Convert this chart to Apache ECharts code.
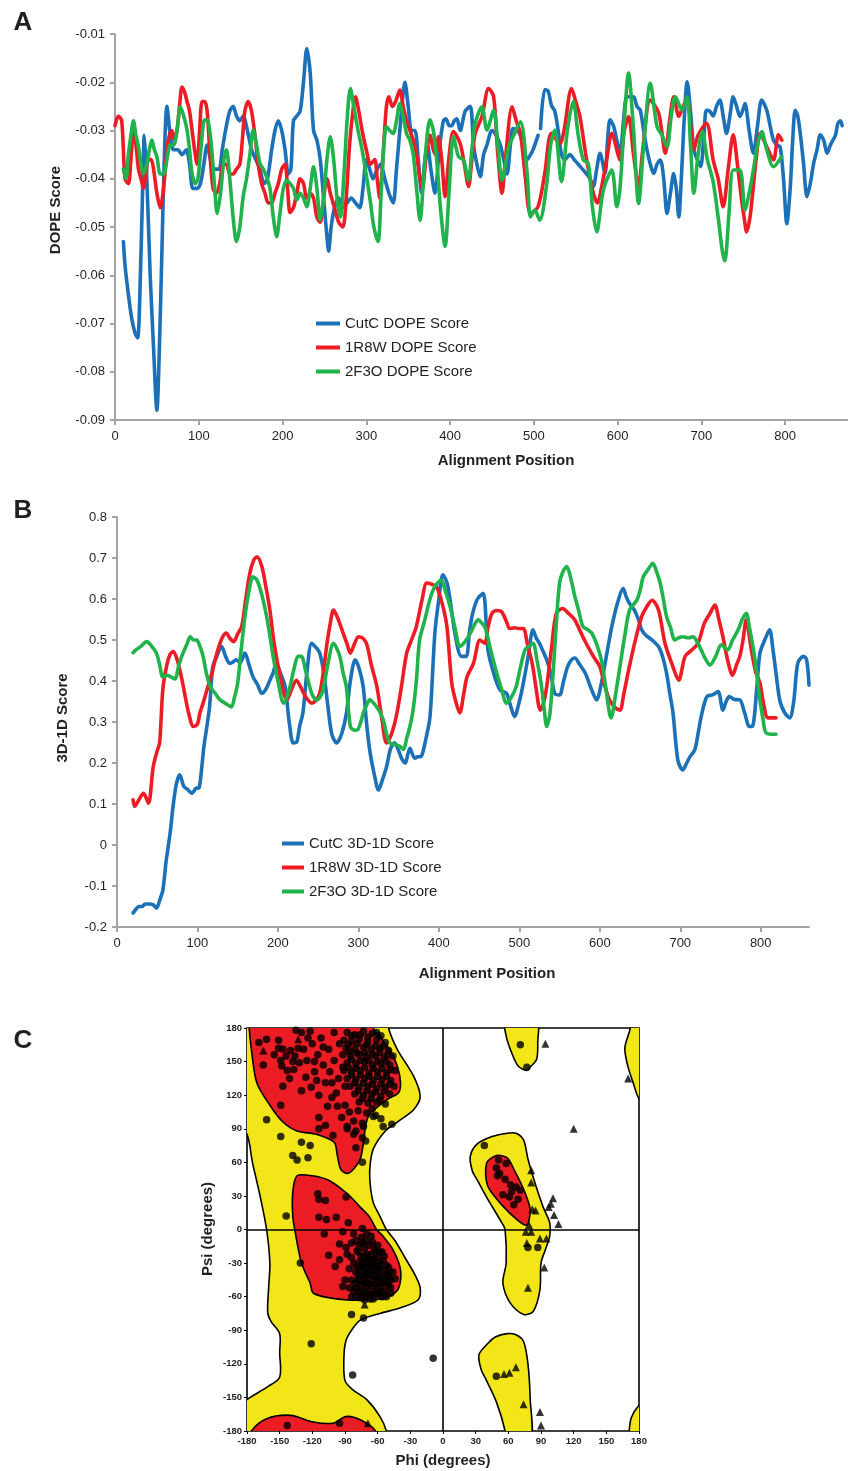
<!DOCTYPE html>
<html><head><meta charset="utf-8">
<script src="https://cdn.jsdelivr.net/npm/echarts@6/dist/echarts.min.js"></script>
<style>html,body{margin:0;padding:0;background:#fff}#c{width:848px;height:1471px}</style>
</head><body><div id="c"></div>
<script>
// ---------- Panel A: DOPE score ----------
const dopeXAxis = {min: 0, max: 875, interval: 100};
const dopeXTicks = [0, 100, 200, 300, 400, 500, 600, 700, 800];
const dopeYAxis = {min: -0.09, max: -0.01, interval: 0.01};
const cutcDope = [[10,-0.053],[12,-0.058],[16,-0.064],[20,-0.069],[24,-0.072],[27,-0.073],[30,-0.062],[33,-0.042],[35,-0.031],[38,-0.040],[42,-0.060],[46,-0.075],[50,-0.088],[53,-0.075],[56,-0.055],[59,-0.035],[62,-0.025],[66,-0.031],[70,-0.034],[75,-0.034],[80,-0.035],[85,-0.034],[89,-0.037],[93,-0.042],[98,-0.042],[102,-0.041],[106,-0.037],[110,-0.033],[114,-0.036],[118,-0.038],[124,-0.038],[128,-0.034],[133,-0.029],[137,-0.026],[141,-0.025],[145,-0.027],[149,-0.028],[153,-0.027],[158,-0.030],[163,-0.034],[168,-0.036],[173,-0.038],[178,-0.041],[182,-0.040],[187,-0.034],[191,-0.030],[195,-0.028],[199,-0.030],[203,-0.034],[207,-0.039],[210,-0.038],[213,-0.028],[217,-0.027],[221,-0.026],[225,-0.020],[229,-0.013],[233,-0.018],[237,-0.030],[241,-0.032],[245,-0.036],[249,-0.044],[253,-0.052],[255,-0.055],[258,-0.050],[262,-0.046],[267,-0.044],[272,-0.046],[277,-0.045],[282,-0.044],[287,-0.045],[292,-0.046],[296,-0.042],[300,-0.036],[304,-0.038],[308,-0.040],[313,-0.038],[317,-0.037],[322,-0.040],[327,-0.043],[332,-0.045],[336,-0.038],[340,-0.030],[343,-0.024],[346,-0.020],[350,-0.025],[354,-0.030],[358,-0.030],[362,-0.036],[366,-0.043],[370,-0.036],[373,-0.033],[377,-0.038],[382,-0.043],[387,-0.034],[392,-0.028],[395,-0.0276],[399,-0.029],[402,-0.029],[405,-0.028],[408,-0.0276],[412,-0.030],[418,-0.026],[424,-0.025],[428,-0.033],[432,-0.037],[436,-0.0396],[440,-0.035],[444,-0.033],[450,-0.030],[455,-0.031],[460,-0.033],[464,-0.036],[468,-0.039],[472,-0.033],[475,-0.0296],[480,-0.030],[484,-0.031],[488,-0.034],[492,-0.036],[496,-0.035],[499,-0.034],[505,-0.031],[506,null],[508,-0.0296],[513,-0.0215],[517,-0.0218],[521,-0.0248],[525,-0.026],[529,-0.030],[533,-0.035],[537,-0.036],[543,-0.035],[548,-0.036],[553,-0.037],[558,-0.038],[563,-0.039],[567,-0.040],[571,-0.0416],[575,-0.038],[579,-0.0347],[585,-0.0389],[588,-0.032],[591,-0.0278],[595,-0.029],[599,-0.032],[603,-0.0347],[607,-0.028],[611,-0.023],[615,-0.023],[619,-0.023],[623,-0.025],[627,-0.0258],[631,-0.030],[635,-0.034],[639,-0.037],[643,-0.0389],[647,-0.037],[651,-0.0361],[655,-0.040],[659,-0.0472],[663,-0.043],[667,-0.0389],[670,-0.042],[673,-0.0479],[676,-0.040],[680,-0.026],[683,-0.0199],[687,-0.026],[691,-0.034],[695,-0.036],[699,-0.0375],[703,-0.031],[706,-0.0258],[710,-0.026],[714,-0.027],[718,-0.025],[722,-0.0237],[726,-0.027],[730,-0.0306],[734,-0.027],[738,-0.023],[742,-0.025],[746,-0.0271],[749,-0.026],[752,-0.0244],[757,-0.030],[762,-0.0347],[767,-0.029],[772,-0.0237],[778,-0.0258],[782,-0.029],[786,-0.032],[790,-0.033],[794,-0.0334],[798,-0.040],[802,-0.0493],[806,-0.042],[809,-0.032],[812,-0.0258],[815,-0.027],[818,-0.0306],[822,-0.037],[826,-0.0437],[830,-0.041],[834,-0.0368],[838,-0.034],[842,-0.0309],[846,-0.032],[850,-0.0347],[854,-0.033],[857,-0.032],[860,-0.031],[863,-0.0285],[866,-0.028],[868,-0.029]];
const r1r8wDope = [[0,-0.029],[4,-0.027],[8,-0.028],[12,-0.040],[16,-0.041],[19,-0.036],[22,-0.030],[25,-0.033],[28,-0.038],[31,-0.040],[34,-0.042],[37,-0.039],[40,-0.036],[43,-0.036],[46,-0.038],[50,-0.043],[54,-0.046],[58,-0.042],[62,-0.034],[65,-0.031],[68,-0.030],[71,-0.032],[74,-0.030],[77,-0.025],[80,-0.021],[83,-0.022],[86,-0.024],[89,-0.026],[92,-0.030],[95,-0.034],[98,-0.037],[101,-0.030],[104,-0.024],[107,-0.024],[110,-0.026],[113,-0.034],[117,-0.042],[121,-0.043],[125,-0.041],[129,-0.037],[133,-0.037],[137,-0.039],[141,-0.039],[145,-0.038],[149,-0.037],[152,-0.032],[155,-0.026],[159,-0.024],[163,-0.026],[167,-0.031],[171,-0.037],[175,-0.041],[179,-0.043],[183,-0.045],[187,-0.045],[191,-0.043],[195,-0.041],[199,-0.038],[203,-0.037],[206,-0.042],[209,-0.047],[213,-0.046],[217,-0.043],[221,-0.040],[225,-0.041],[229,-0.044],[233,-0.043],[237,-0.044],[241,-0.048],[245,-0.049],[249,-0.044],[253,-0.040],[257,-0.043],[262,-0.046],[267,-0.049],[272,-0.050],[276,-0.044],[280,-0.033],[284,-0.026],[287,-0.023],[291,-0.026],[295,-0.030],[300,-0.034],[305,-0.037],[310,-0.036],[313,-0.040],[316,-0.044],[320,-0.035],[324,-0.025],[327,-0.023],[331,-0.025],[335,-0.024],[340,-0.0216],[344,-0.025],[348,-0.028],[352,-0.030],[356,-0.032],[360,-0.035],[364,-0.040],[367,-0.042],[371,-0.036],[376,-0.031],[380,-0.034],[383,-0.035],[386,-0.0313],[390,-0.036],[394,-0.0437],[399,-0.035],[404,-0.0302],[412,-0.0327],[417,-0.037],[422,-0.0416],[426,-0.036],[430,-0.0306],[438,-0.0271],[446,-0.0213],[452,-0.023],[457,-0.035],[462,-0.043],[466,-0.036],[474,-0.0251],[479,-0.028],[484,-0.0306],[490,-0.040],[496,-0.0472],[505,-0.0458],[513,-0.0389],[521,-0.0306],[531,-0.0327],[536,-0.030],[545,-0.0213],[550,-0.024],[555,-0.0271],[563,-0.0361],[571,-0.043],[576,-0.045],[581,-0.0416],[587,-0.036],[593,-0.0306],[603,-0.0361],[608,-0.030],[613,-0.0271],[619,-0.035],[625,-0.0416],[630,-0.034],[639,-0.0237],[649,-0.0264],[657,-0.0347],[662,-0.028],[667,-0.023],[673,-0.0271],[678,-0.025],[683,-0.0237],[691,-0.034],[696,-0.031],[706,-0.0285],[714,-0.0361],[720,-0.040],[726,-0.0458],[732,-0.038],[738,-0.0309],[743,-0.037],[748,-0.0444],[751,-0.048],[754,-0.051],[758,-0.048],[762,-0.0416],[766,-0.035],[770,-0.0306],[778,-0.0334],[786,-0.0361],[792,-0.0309],[796,-0.032]];
const f2f3oDope = [[10,-0.038],[13,-0.040],[16,-0.035],[19,-0.031],[22,-0.028],[25,-0.031],[28,-0.0334],[31,-0.037],[34,-0.039],[38,-0.037],[41,-0.034],[44,-0.032],[47,-0.034],[50,-0.0354],[54,-0.039],[58,-0.039],[62,-0.036],[66,-0.033],[70,-0.033],[74,-0.030],[78,-0.0251],[82,-0.027],[86,-0.0299],[89,-0.034],[92,-0.039],[96,-0.041],[99,-0.040],[103,-0.033],[107,-0.0278],[111,-0.028],[115,-0.033],[119,-0.042],[122,-0.0472],[126,-0.043],[130,-0.036],[133,-0.034],[137,-0.040],[141,-0.048],[145,-0.053],[149,-0.050],[153,-0.0437],[157,-0.040],[161,-0.035],[165,-0.0299],[169,-0.033],[173,-0.0368],[177,-0.038],[181,-0.0396],[185,-0.042],[189,-0.048],[193,-0.052],[197,-0.047],[201,-0.042],[205,-0.0403],[209,-0.041],[213,-0.042],[217,-0.0444],[221,-0.043],[225,-0.044],[229,-0.0458],[233,-0.042],[237,-0.0375],[241,-0.042],[245,-0.0486],[249,-0.044],[253,-0.036],[257,-0.0313],[261,-0.036],[265,-0.044],[269,-0.0479],[273,-0.040],[277,-0.028],[281,-0.0213],[285,-0.025],[290,-0.0299],[295,-0.034],[301,-0.0403],[305,-0.045],[309,-0.050],[314,-0.053],[318,-0.042],[324,-0.0292],[328,-0.030],[332,-0.0306],[336,-0.028],[340,-0.0244],[344,-0.027],[348,-0.0306],[352,-0.032],[356,-0.035],[360,-0.042],[364,-0.0486],[370,-0.036],[376,-0.0278],[380,-0.030],[384,-0.0361],[389,-0.047],[394,-0.054],[399,-0.042],[404,-0.0313],[410,-0.0354],[416,-0.0361],[422,-0.0403],[426,-0.034],[430,-0.0285],[438,-0.0251],[444,-0.0299],[452,-0.0258],[457,-0.033],[462,-0.0403],[470,-0.0334],[476,-0.031],[484,-0.0282],[492,-0.0389],[496,-0.0479],[501,-0.0465],[507,-0.0486],[515,-0.0416],[520,-0.033],[525,-0.0299],[533,-0.0406],[540,-0.030],[547,-0.024],[553,-0.031],[559,-0.0361],[565,-0.0368],[570,-0.046],[575,-0.051],[583,-0.0423],[593,-0.0382],[599,-0.0458],[603,-0.0416],[608,-0.028],[613,-0.0181],[619,-0.030],[625,-0.0451],[631,-0.0334],[639,-0.0202],[647,-0.0292],[653,-0.031],[659,-0.0334],[664,-0.027],[669,-0.023],[677,-0.0258],[683,-0.023],[687,-0.033],[691,-0.043],[696,-0.035],[701,-0.0302],[707,-0.036],[714,-0.0406],[720,-0.048],[725,-0.055],[728,-0.057],[733,-0.047],[738,-0.0382],[746,-0.0382],[752,-0.0465],[757,-0.043],[762,-0.0382],[767,-0.033],[772,-0.0302],[778,-0.034],[786,-0.0375],[796,-0.0354]];

// ---------- Panel B: 3D-1D score ----------
const prof3dXAxis = {min: 0, max: 860, interval: 100};
const prof3dXTicks = [0, 100, 200, 300, 400, 500, 600, 700, 800];
const prof3dYAxis = {min: -0.2, max: 0.8, interval: 0.1};
const cutc3d = [[20,-0.166],[23,-0.158],[27,-0.150],[31,-0.150],[35,-0.144],[40,-0.144],[45,-0.146],[49,-0.154],[53,-0.135],[57,-0.110],[61,-0.040],[66,0.029],[70,0.100],[74,0.151],[78,0.171],[83,0.143],[88,0.135],[93,0.126],[98,0.138],[102,0.140],[105,0.183],[108,0.240],[111,0.280],[115,0.337],[119,0.435],[124,0.460],[130,0.484],[135,0.460],[140,0.443],[144,0.446],[148,0.452],[153,0.445],[159,0.468],[164,0.440],[169,0.410],[175,0.390],[180,0.370],[185,0.380],[190,0.402],[194,0.420],[198,0.443],[203,0.420],[209,0.386],[214,0.300],[219,0.249],[223,0.250],[227,0.290],[231,0.322],[236,0.420],[242,0.492],[248,0.480],[252,0.468],[257,0.420],[262,0.340],[267,0.270],[273,0.249],[279,0.270],[285,0.320],[290,0.400],[296,0.452],[301,0.430],[306,0.386],[310,0.300],[314,0.232],[320,0.170],[325,0.134],[330,0.160],[335,0.191],[340,0.235],[345,0.249],[350,0.230],[354,0.210],[358,0.200],[364,0.236],[370,0.212],[374,0.215],[378,0.216],[384,0.260],[389,0.313],[395,0.516],[400,0.600],[405,0.659],[410,0.640],[414,0.597],[420,0.516],[428,0.460],[434,0.460],[438,0.520],[442,0.565],[448,0.600],[455,0.614],[461,0.476],[468,0.420],[476,0.378],[484,0.370],[489,0.340],[494,0.313],[500,0.350],[505,0.395],[511,0.460],[517,0.525],[521,0.505],[525,0.492],[530,0.470],[534,0.452],[539,0.420],[544,0.370],[550,0.366],[555,0.400],[560,0.435],[565,0.452],[569,0.456],[575,0.440],[582,0.419],[590,0.378],[596,0.354],[602,0.395],[609,0.470],[615,0.533],[622,0.590],[629,0.626],[633,0.605],[637,0.589],[643,0.573],[648,0.550],[652,0.525],[658,0.510],[665,0.500],[673,0.484],[678,0.460],[683,0.419],[687,0.370],[691,0.322],[697,0.207],[703,0.183],[708,0.200],[712,0.215],[718,0.232],[722,0.270],[726,0.313],[733,0.362],[740,0.366],[747,0.374],[753,0.329],[757,0.350],[761,0.362],[767,0.355],[774,0.354],[780,0.322],[786,0.289],[790,0.290],[795,0.380],[799,0.468],[805,0.500],[811,0.525],[815,0.480],[819,0.419],[824,0.350],[830,0.322],[836,0.310],[841,0.350],[846,0.443],[853,0.460],[857,0.452],[860,0.390]];
const r1r8w3d = [[20,0.110],[22,0.094],[27,0.110],[33,0.126],[39,0.102],[45,0.191],[50,0.230],[53,0.249],[57,0.380],[62,0.440],[66,0.465],[70,0.472],[75,0.450],[80,0.410],[85,0.360],[89,0.322],[95,0.289],[100,0.295],[103,0.322],[107,0.346],[112,0.380],[118,0.419],[123,0.460],[128,0.492],[132,0.510],[136,0.517],[140,0.505],[145,0.496],[150,0.515],[155,0.533],[160,0.600],[165,0.662],[170,0.695],[174,0.703],[180,0.679],[185,0.630],[190,0.573],[194,0.510],[198,0.460],[204,0.400],[211,0.354],[217,0.380],[223,0.402],[228,0.386],[235,0.360],[242,0.346],[247,0.352],[252,0.370],[257,0.430],[261,0.492],[265,0.540],[269,0.573],[274,0.555],[281,0.517],[286,0.490],[290,0.468],[295,0.490],[300,0.508],[305,0.505],[310,0.492],[316,0.440],[323,0.386],[329,0.310],[335,0.249],[341,0.270],[347,0.313],[353,0.380],[360,0.468],[366,0.500],[372,0.533],[379,0.597],[385,0.639],[391,0.636],[397,0.630],[404,0.590],[410,0.533],[416,0.395],[421,0.350],[426,0.322],[431,0.370],[435,0.410],[443,0.443],[451,0.500],[457,0.492],[461,0.530],[466,0.565],[472,0.572],[478,0.569],[484,0.545],[488,0.528],[494,0.530],[499,0.528],[505,0.528],[510,0.490],[516,0.443],[521,0.380],[526,0.329],[530,0.345],[534,0.386],[540,0.480],[546,0.565],[554,0.577],[561,0.565],[569,0.549],[576,0.520],[583,0.492],[592,0.460],[600,0.435],[606,0.390],[612,0.354],[619,0.335],[625,0.329],[630,0.370],[635,0.419],[643,0.490],[652,0.557],[658,0.580],[665,0.597],[673,0.573],[681,0.492],[690,0.440],[698,0.402],[706,0.460],[714,0.475],[722,0.492],[730,0.541],[737,0.565],[743,0.585],[748,0.550],[753,0.508],[759,0.450],[765,0.414],[770,0.440],[774,0.460],[778,0.500],[782,0.549],[788,0.480],[794,0.420],[799,0.395],[804,0.340],[809,0.310],[819,0.310]];
const f2f3o3d = [[20,0.469],[23,0.475],[30,0.485],[37,0.496],[43,0.485],[49,0.468],[53,0.440],[57,0.410],[62,0.414],[67,0.410],[72,0.405],[77,0.440],[82,0.468],[87,0.490],[91,0.508],[95,0.500],[99,0.500],[103,0.485],[107,0.460],[111,0.420],[116,0.386],[122,0.370],[128,0.354],[135,0.345],[142,0.337],[146,0.360],[150,0.395],[154,0.470],[159,0.557],[164,0.620],[169,0.654],[174,0.646],[180,0.610],[186,0.557],[190,0.510],[194,0.460],[200,0.400],[207,0.346],[211,0.360],[215,0.386],[220,0.430],[225,0.460],[229,0.460],[235,0.420],[242,0.370],[248,0.354],[252,0.360],[256,0.378],[262,0.440],[269,0.492],[273,0.480],[277,0.460],[281,0.420],[285,0.386],[290,0.289],[295,0.280],[299,0.281],[303,0.300],[306,0.322],[310,0.340],[314,0.354],[319,0.346],[325,0.330],[331,0.305],[335,0.270],[339,0.249],[345,0.245],[351,0.241],[356,0.233],[360,0.260],[364,0.289],[368,0.330],[372,0.400],[376,0.500],[382,0.545],[389,0.600],[395,0.630],[403,0.646],[408,0.620],[414,0.581],[420,0.530],[426,0.484],[430,0.490],[434,0.500],[440,0.520],[445,0.540],[449,0.549],[454,0.540],[458,0.528],[465,0.470],[472,0.419],[478,0.380],[484,0.346],[490,0.360],[496,0.386],[501,0.430],[507,0.476],[512,0.485],[517,0.492],[522,0.450],[527,0.395],[531,0.330],[534,0.289],[538,0.320],[542,0.420],[546,0.540],[550,0.639],[555,0.670],[559,0.679],[564,0.650],[569,0.606],[574,0.570],[579,0.533],[585,0.525],[590,0.517],[596,0.490],[602,0.451],[607,0.390],[612,0.322],[614,0.310],[619,0.360],[625,0.435],[631,0.510],[637,0.573],[646,0.597],[650,0.620],[654,0.654],[660,0.672],[666,0.687],[670,0.670],[675,0.639],[679,0.600],[683,0.557],[688,0.530],[693,0.500],[698,0.505],[703,0.508],[710,0.505],[716,0.508],[721,0.495],[726,0.476],[731,0.455],[737,0.439],[744,0.460],[751,0.488],[759,0.476],[765,0.500],[772,0.525],[777,0.550],[782,0.565],[786,0.530],[791,0.476],[795,0.420],[799,0.354],[803,0.305],[807,0.273],[819,0.270]];

// ---------- Panel C: Ramachandran ----------
const ramaRange = {min: -180, max: 180, interval: 30};
const yellowRegions = [
  [[-190,190],[-50,190],[-50,180],[-42,161],[-27,137],[-21,119],[-27,107],[-42,96],[-53,88],[-64,72],[-67,57],[-67,42],[-64,24],[-58,12],[-52,0],[-44,-10],[-35,-25],[-26,-40],[-21,-52],[-23,-63],[-39,-70],[-58,-75],[-76,-81],[-84,-90],[-89,-99],[-91,-114],[-90,-135],[-83,-143],[-70,-152],[-58,-167],[-52,-180],[-51,-190],[-190,-190],[-190,-160],[-177,-150],[-162,-141],[-150,-132],[-150,-110],[-150,-93],[-158,-82],[-161,-74],[-160,-50],[-159,-30],[-162,0],[-168,30],[-175,60],[-180,85],[-190,95]],
  [[59,86],[45,83],[31,76],[25,65],[27,52],[31,45],[40,29],[54,6],[57,0],[58,-30],[55,-48],[62,-66],[74,-76],[83,-73],[89,-54],[90,-30],[94,-18],[98,-6],[98,6],[92,20],[85,40],[78,63],[74,80],[67,86]],
  [[57,190],[86,190],[87,167],[86,152],[80,145],[77,142],[69,146],[63,158],[58,173]],
  [[59,-93],[48,-96],[40,-103],[33,-112],[35,-125],[39,-133],[49,-154],[57,-180],[57,-190],[80,-190],[80,-150],[78,-120],[74,-100],[67,-94]],
  [[190,190],[172,190],[172,180],[167,162],[170,145],[175,130],[180,117],[190,110]],
  [[190,-150],[180,-157],[173,-168],[171,-180],[171,-190],[190,-190]]
];
const redRegions = [
  [[-178,190],[-64,190],[-64,180],[-49,161],[-42,146],[-39,131],[-41,122],[-50,117],[-62,108],[-68,102],[-71,93],[-73,78],[-76,63],[-82,54],[-88,50],[-94,54],[-97,66],[-100,78],[-116,85],[-134,88],[-147,96],[-159,111],[-171,131],[-176,161],[-178,180]],
  [[-134,48],[-120,48],[-105,44],[-88,32],[-76,20],[-68,12],[-61,0],[-56,-5],[-46,-18],[-39,-36],[-41,-53],[-52,-61],[-70,-63],[-98,-62],[-119,-57],[-122,-48],[-130,-30],[-136,-1],[-138,12],[-138,33]],
  [[-178,-190],[-176,-180],[-162,-169],[-140,-166],[-119,-172],[-101,-173],[-89,-167],[-76,-170],[-62,-180],[-62,-190]],
  [[49,66],[40,59],[41,39],[54,22],[69,8],[77,4],[80,18],[74,36],[65,54],[59,64]]
];
const circlePoints = [[-169,167],[-162,170],[-165,147],[-155,156],[-151,169],[-151,162],[-147,161],[-149,151],[-148,146],[-143,142],[-147,128],[-149,111],[-135,178],[-130,176],[-122,177],[-140,160],[-136,155],[-132,149],[-137,143],[-141,135],[-128,161],[-125,151],[-120,166],[-118,141],[-126,136],[-115,156],[-112,171],[-110,147],[-108,131],[-105,161],[-104,141],[-100,176],[-100,151],[-98,122],[-96,135],[-95,166],[-92,145],[-90,111],[-90,128],[-121,127],[-114,120],[-106,110],[-102,118],[-130,124],[-138,150],[-116,133],[-110,163],[-124,171],[-133,162],[-144,155],[-118,150],[-102,131],[-97,110],
  [-88,176],[-81,174],[-73,177],[-65,175],[-57,173],[-91,169],[-84,168],[-77,170],[-69,168],[-61,169],[-53,167],[-89,162],[-81,161],[-73,163],[-66,161],[-58,162],[-50,160],[-92,156],[-85,155],[-77,156],[-70,154],[-62,155],[-54,153],[-46,155],[-88,149],[-80,148],[-72,150],[-65,147],[-57,148],[-49,147],[-91,142],[-84,141],[-76,142],[-68,140],[-60,141],[-52,140],[-44,142],[-88,135],[-80,134],[-72,135],[-64,133],[-56,134],[-48,133],[-85,128],[-77,127],[-69,128],[-61,126],[-53,127],[-45,128],[-81,121],[-73,120],[-65,121],[-57,119],[-49,121],[-77,114],[-69,113],[-61,114],[-53,112],
  [-84,173],[-76,174],[-69,172],[-61,176],[-87,165],[-79,166],[-70,165],[-62,164],[-55,164],[-86,159],[-79,158],[-72,158],[-65,157],[-58,158],[-51,156],[-84,152],[-76,151],[-68,151],[-60,150],[-52,150],[-87,145],[-80,144],[-72,145],[-64,144],[-56,144],[-48,143],[-84,138],[-76,138],[-68,137],[-60,137],[-52,137],[-81,131],[-73,131],[-65,130],[-57,130],[-49,130],[-78,124],[-70,124],[-62,123],[-54,124],[-74,117],[-66,117],[-58,116],
  [-86,105],[-78,106],[-70,104],[-62,102],[-82,97],[-74,95],[-57,99],[-88,92],[-80,88],[-74,82],[-71,79],[-80,73],[-74,60],[-82,85],[-101,84],[-114,90],[-114,100],[-108,93],[-88,90],[-64,101],[-73,92],[-55,92],[-47,94],[-162,98],[-149,83],[-130,78],[-122,75],[-138,66],[-134,62],[-124,64],[-144,12],[-65,108],[-93,100],
  [-115,32],[-114,27],[-108,26],[-114,11],[-107,9],[-98,11],[-89,29],[-87,6],[-92,-2],[-74,1],[-109,-4],[-105,-23],[-131,-30],[-99,-33],[-95,-27],[-90,-45],[-92,-51],[-82,-4],[-89,-16],[-95,-13],[-84,-25],[-79,-19],[-84,-60],[-72,-63],[-64,-62],[-52,-60],[-48,-57],[-84,-76],[-73,-79],[-121,-102],[-83,-130],[-9,-115],[-143,-175],[-95,-173],
  [-80,-10],[-75,-7],[-70,-4],[-65,-11],[-60,-14],[-78,-20],[-72,-17],[-66,-22],[-60,-25],[-55,-28],[-50,-34],[-82,-30],[-76,-28],[-70,-30],[-64,-32],[-58,-35],[-52,-40],[-48,-45],[-80,-38],[-74,-38],[-68,-40],[-62,-42],[-56,-45],[-50,-50],[-84,-45],[-78,-45],[-72,-48],[-66,-50],[-60,-52],[-54,-55],[-80,-52],[-74,-55],[-68,-58],[-62,-57],[-56,-60],[-76,-61],[-70,-35],[-66,-27],[-72,-24],[-62,-36],[-58,-48],[-64,-45],[-70,-45],[-76,-50],[-82,-55],[-68,-14],[-74,-12],[-56,-20],[-86,-35],[-88,-22],[-60,-30],[-54,-48],[-76,-34],[-70,-52],[-64,-55],[-60,-40],[-72,-42],[-78,-40],[-58,-56],[-52,-32],[-62,-20],[-84,-12],[-46,-38],[-48,-52],[-44,-44],[-66,-6],[-86,-52],[-80,-60],[-54,-24],[-50,-42],[-58,-42],[-66,-36],[-74,-30],[-70,-22],
  [-77,-14],[-71,-10],[-63,-17],[-58,-20],[-75,-24],[-69,-26],[-63,-27],[-57,-31],[-79,-33],[-73,-33],[-67,-32],[-61,-33],[-55,-37],[-49,-38],[-77,-42],[-71,-39],[-65,-41],[-59,-44],[-53,-44],[-81,-48],[-75,-46],[-69,-48],[-63,-49],[-57,-51],[-51,-47],[-77,-56],[-71,-56],[-65,-58],[-59,-58],[-53,-58],[-73,-60],[-67,-62],
  [71,165],[77,145],[38,75],[51,62],[58,59],[49,55],[50,48],[52,50],[67,38],[63,34],[55,31],[61,29],[69,27],[65,22],[71,35],[57,45],[62,40],[78,-16],[87,-16],[49,-131]];
const trianglePoints = [[-165,160],[-133,170],[-59,174],[-72,-67],[-69,-173],[94,166],[170,135],[120,90],[81,53],[81,42],[101,28],[99,23],[97,20],[82,18],[85,17],[102,13],[106,5],[79,4],[76,-2],[81,-2],[77,-12],[89,-8],[95,-8],[93,-34],[78,-52],[67,-123],[61,-128],[56,-129],[74,-156],[89,-163],[90,-175]];

const FONT = '"Liberation Sans", Arial, Helvetica, sans-serif';
const TXT = '#231f20';
const BLUE = '#1c70b8', RED = '#ed1c24', GREEN = '#20b24b';
const AX = '#a3a3a3';

function lineSeries(name, data, color, idx) {
  return {name, type: 'line', xAxisIndex: idx, yAxisIndex: idx, data, symbol: 'none', showSymbol: false,
    smooth: 0.3, connectNulls: false, lineStyle: {color, width: 3.6, cap: 'round', join: 'round'}, itemStyle: {color}};
}
function valAxis(gi, range, fmt, ticks) {
  const ax = {type: 'value', gridIndex: gi, min: range.min, max: range.max, interval: range.interval,
    splitLine: {show: false},
    axisLine: {show: true, onZero: false, lineStyle: {color: AX, width: 2}},
    axisTick: {show: true, length: 5, lineStyle: {color: AX, width: 2}},
    axisLabel: {color: TXT, fontFamily: FONT, fontSize: 13, margin: 10, formatter: fmt}};
  if (ticks) { ax.axisTick.customValues = ticks; ax.axisLabel.customValues = ticks; }
  return ax;
}
function regionSeries(regions, fill, z) {
  return {type: 'custom', xAxisIndex: 2, yAxisIndex: 2, clip: true, z, silent: true,
    data: regions.map(r => r[0]),
    renderItem: (params, api) => ({type: 'polygon',
      shape: {points: regions[params.dataIndex].map(p => api.coord(p)), smooth: 0.3},
      style: {fill, stroke: '#000', lineWidth: 1.6}})};
}
function makeRamaAxis(gi) {
  return {type: 'value', gridIndex: gi, min: ramaRange.min, max: ramaRange.max, interval: ramaRange.interval,
    splitLine: {show: false}, axisLine: {show: false, onZero: false},
    axisTick: {show: true, length: 3, lineStyle: {color: '#000'}},
    axisLabel: {color: '#222', fontFamily: FONT, fontSize: 9.5, fontWeight: 'bold', margin: 5}};
}
function gtext(text, x, y, size, rot, weight) {
  return {type: 'text', x, y, rotation: rot || 0, silent: true,
    style: {text, font: (weight || 'bold') + ' ' + size + 'px ' + FONT, fill: TXT,
      align: 'center', verticalAlign: 'middle', textAlign: 'center', textVerticalAlign: 'middle'}};
}
const hideOver800 = v => (v % 100 === 0 && v <= 800) ? String(v) : '';

const chart = echarts.init(document.getElementById('c'), null, {renderer: 'canvas'});
chart.setOption({
  animation: false,
  backgroundColor: '#fff',
  grid: [
    {left: 115, top: 34, width: 733, height: 386},
    {left: 117, top: 517, width: 692, height: 410},
    {left: 247, top: 1028, width: 392, height: 403, show: true, borderColor: '#000', borderWidth: 1.6, backgroundColor: 'transparent'}
  ],
  xAxis: [
    valAxis(0, dopeXAxis, hideOver800, dopeXTicks),
    valAxis(1, prof3dXAxis, hideOver800, prof3dXTicks),
    makeRamaAxis(2)
  ],
  yAxis: [
    valAxis(0, dopeYAxis, v => v.toFixed(2)),
    valAxis(1, prof3dYAxis, v => Math.abs(v) < 1e-9 ? '0' : String(+v.toFixed(1))),
    makeRamaAxis(2)
  ],
  legend: [
    {data: ['CutC DOPE Score', '1R8W DOPE Score', '2F3O DOPE Score'], orient: 'vertical', left: 311, top: 311,
      icon: 'rect', itemWidth: 24, itemHeight: 4, itemGap: 9, textStyle: {fontFamily: FONT, fontSize: 15, color: TXT}},
    {data: ['CutC 3D-1D Score', '1R8W 3D-1D Score', '2F3O 3D-1D Score'], orient: 'vertical', left: 277, top: 831,
      icon: 'rect', itemWidth: 22, itemHeight: 4, itemGap: 9, textStyle: {fontFamily: FONT, fontSize: 15, color: TXT}}
  ],
  graphic: [
    gtext('A', 23, 23, 26), gtext('B', 23, 511, 26), gtext('C', 23, 1041, 26),
    gtext('Alignment Position', 506, 461, 15), gtext('DOPE Score', 56, 210, 15, Math.PI / 2),
    gtext('Alignment Position', 487, 974, 15), gtext('3D-1D Score', 63, 718, 15, Math.PI / 2),
    gtext('Phi (degrees)', 443, 1461, 15), gtext('Psi (degrees)', 208, 1229, 15, Math.PI / 2)
  ],
  series: [
    lineSeries('CutC DOPE Score', cutcDope, BLUE, 0),
    lineSeries('1R8W DOPE Score', r1r8wDope, RED, 0),
    lineSeries('2F3O DOPE Score', f2f3oDope, GREEN, 0),
    lineSeries('CutC 3D-1D Score', cutc3d, BLUE, 1),
    lineSeries('1R8W 3D-1D Score', r1r8w3d, RED, 1),
    lineSeries('2F3O 3D-1D Score', f2f3o3d, GREEN, 1),
    regionSeries(yellowRegions, '#f2e619', 1),
    regionSeries(redRegions, '#ec1c24', 2),
    {type: 'scatter', xAxisIndex: 2, yAxisIndex: 2, data: circlePoints, symbol: 'circle', symbolSize: 7.5, z: 4, silent: true,
      itemStyle: {color: '#000'},
      markLine: {symbol: 'none', silent: true, label: {show: false}, lineStyle: {color: '#000', width: 1.6, type: 'solid'},
        data: [{xAxis: 0}, {yAxis: 0}]}},
    {type: 'scatter', xAxisIndex: 2, yAxisIndex: 2, data: trianglePoints, symbol: 'triangle', symbolSize: 8, z: 4, silent: true,
      itemStyle: {color: '#000'}}
  ]
});
</script></body></html>
